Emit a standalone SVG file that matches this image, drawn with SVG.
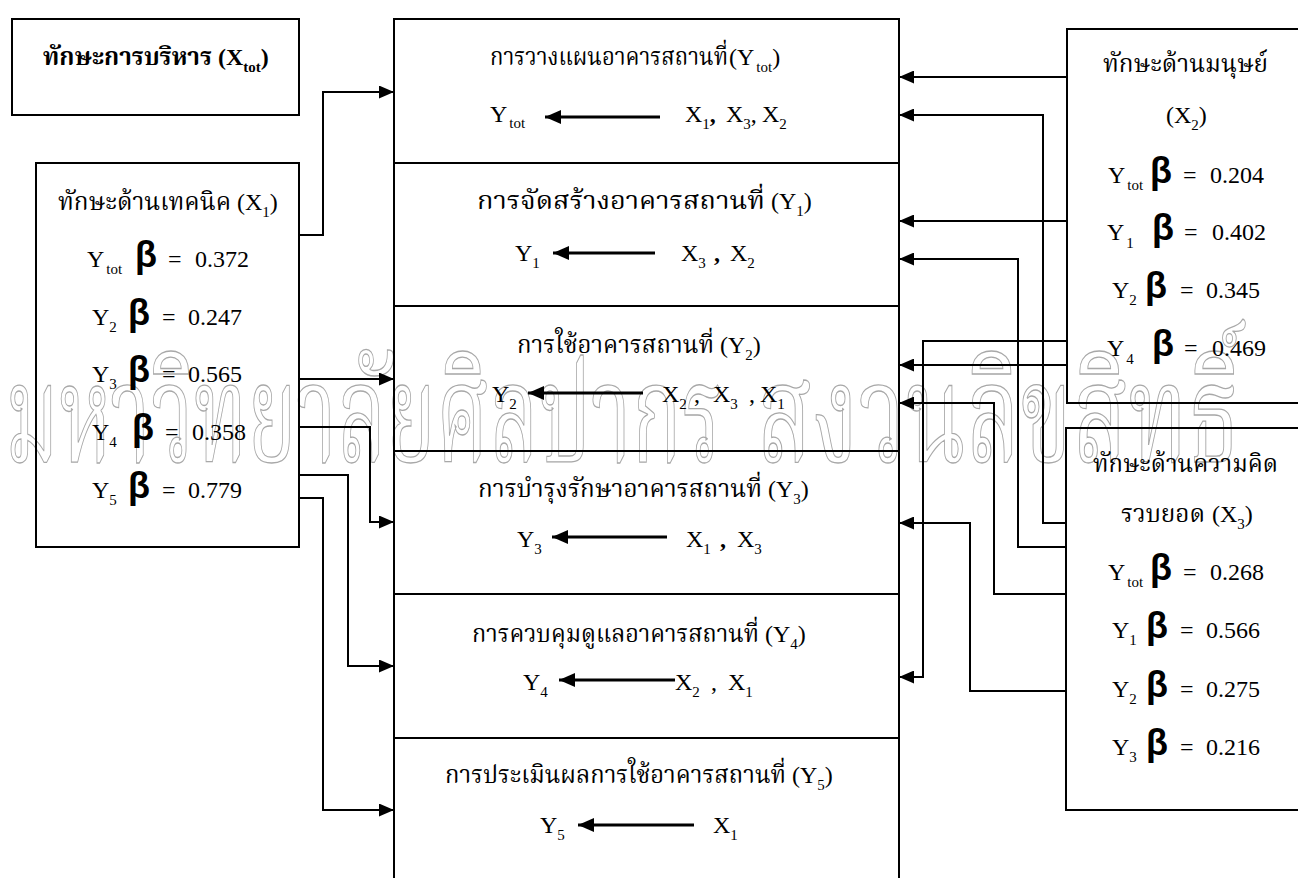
<svg xmlns="http://www.w3.org/2000/svg" width="1298" height="878" viewBox="0 0 1298 878">
<defs>
<style>
.box{fill:none;stroke:#000;stroke-width:2}
.c{fill:none;stroke:#000;stroke-width:2}
.ra{fill:none;stroke:#000;stroke-width:3}
text{font-family:"Liberation Serif","Noto Serif Thai","Noto Sans Thai","Loma","Garuda","Norasi",serif;font-size:24px;fill:#000}
.s{font-size:15px}
.bd{font-weight:bold}
.b{font-family:"Liberation Sans","DejaVu Sans",sans-serif;font-weight:bold;font-size:36px}
.wm{font-size:138px;fill:none;stroke:#a8a8a8;stroke-width:1.3}
</style>
<marker id="ah" markerUnits="userSpaceOnUse" markerWidth="15" markerHeight="13" refX="15" refY="6.5" orient="auto">
<path d="M0,0 L15,6.5 L0,13 Z" fill="#000"/>
</marker>
<marker id="ah2" markerUnits="userSpaceOnUse" markerWidth="16" markerHeight="14" refX="16" refY="7" orient="auto">
<path d="M0,0 L16,7 L0,14 Z" fill="#000"/>
</marker>
</defs>
<rect width="1298" height="878" fill="#fff"/>

<g id="watermark">
<text class="wm" x="5" y="462" textLength="718" lengthAdjust="spacingAndGlyphs">มหาวิทยาลัยศิลปากร</text>
<text class="wm" x="757" y="462" textLength="483" lengthAdjust="spacingAndGlyphs">สงวนลิขสิทธิ์</text>
</g>

<g id="xtot">
<rect class="box" x="12" y="19" width="287" height="96"/>
<text class="bd" x="43" y="65" textLength="169" lengthAdjust="spacingAndGlyphs">ทักษะการบริหาร</text>
<text class="bd" x="218" y="65">(X<tspan class="s" dy="7">tot</tspan><tspan dy="-7">)</tspan></text>
</g>

<g id="x1">
<rect class="box" x="36" y="163" width="263" height="384"/>
<text x="58" y="210" textLength="173" lengthAdjust="spacingAndGlyphs">ทักษะด้านเทคนิค</text>
<text x="237" y="210">(X<tspan class="s" dy="7">1</tspan><tspan dy="-7">)</tspan></text>
<text x="87" y="267">Y<tspan class="s" dx="2" dy="7">tot</tspan></text><text class="b" x="135" y="267">β</text><text x="168" y="267">=</text><text x="195" y="267">0.372</text>
<text x="92" y="325">Y<tspan class="s" dy="7">2</tspan></text><text class="b" x="128" y="325">β</text><text x="162" y="325">=</text><text x="188" y="325">0.247</text>
<text x="92" y="382">Y<tspan class="s" dy="7">3</tspan></text><text class="b" x="128" y="382">β</text><text x="162" y="382">=</text><text x="188" y="382">0.565</text>
<text x="92" y="440">Y<tspan class="s" dy="7">4</tspan></text><text class="b" x="132" y="440">β</text><text x="165" y="440">=</text><text x="192" y="440">0.358</text>
<text x="92" y="498">Y<tspan class="s" dy="7">5</tspan></text><text class="b" x="128" y="498">β</text><text x="162" y="498">=</text><text x="188" y="498">0.779</text>
</g>

<g id="row-ytot">
<rect class="box" x="394" y="19" width="505" height="144"/>
<text x="490" y="65" textLength="238" lengthAdjust="spacingAndGlyphs">การวางแผนอาคารสถานที่</text>
<text x="729" y="65">(Y<tspan class="s" dx="2" dy="7">tot</tspan><tspan dy="-7">)</tspan></text>
<text x="490" y="122">Y<tspan class="s" dx="2" dy="6">tot</tspan></text>
<path class="ra" marker-end="url(#ah2)" d="M660,117 H545"/>
<text y="122"><tspan x="685">X</tspan><tspan class="s" dy="7">1</tspan><tspan class="bd" dy="-7">,</tspan><tspan x="726">X</tspan><tspan class="s" dy="7">3</tspan><tspan dy="-7">,</tspan><tspan x="762">X</tspan><tspan class="s" dy="7">2</tspan></text>
</g>

<g id="row-y1">
<rect class="box" x="394" y="163" width="505" height="143"/>
<text x="477" y="209" textLength="288" lengthAdjust="spacingAndGlyphs">การจัดสร้างอาคารสถานที่</text>
<text x="771" y="209">(Y<tspan class="s" dy="7">1</tspan><tspan dy="-7">)</tspan></text>
<text x="515" y="261">Y<tspan class="s" dy="7">1</tspan></text>
<path class="ra" marker-end="url(#ah2)" d="M655,253 H553"/>
<text y="261"><tspan x="681">X</tspan><tspan class="s" dy="7">3</tspan><tspan class="bd" x="714" dy="-7">,</tspan><tspan x="730">X</tspan><tspan class="s" dy="7">2</tspan></text>
</g>

<g id="row-y2">
<rect class="box" x="394" y="306" width="505" height="145"/>
<text x="517" y="353" textLength="197" lengthAdjust="spacingAndGlyphs">การใช้อาคารสถานที่</text>
<text x="720" y="353">(Y<tspan class="s" dy="7">2</tspan><tspan dy="-7">)</tspan></text>
<text x="492" y="402">Y<tspan class="s" dy="7">2</tspan></text>
<path class="ra" marker-end="url(#ah2)" d="M643,393 H528"/>
<text y="402"><tspan x="662">X</tspan><tspan class="s" dy="7">2</tspan><tspan x="694" dy="-7">,</tspan><tspan x="713">X</tspan><tspan class="s" dy="7">3</tspan><tspan x="749" dy="-7">,</tspan><tspan x="760">X</tspan><tspan class="s" dy="7">1</tspan></text>
</g>

<g id="row-y3">
<rect class="box" x="394" y="451" width="505" height="143"/>
<text x="478" y="497" textLength="284" lengthAdjust="spacingAndGlyphs">การบำรุงรักษาอาคารสถานที่</text>
<text x="768" y="497">(Y<tspan class="s" dy="7">3</tspan><tspan dy="-7">)</tspan></text>
<text x="517" y="547">Y<tspan class="s" dy="7">3</tspan></text>
<path class="ra" marker-end="url(#ah2)" d="M667,537 H552"/>
<text y="547"><tspan x="686">X</tspan><tspan class="s" dy="7">1</tspan><tspan class="bd" x="720" dy="-7">,</tspan><tspan x="737">X</tspan><tspan class="s" dy="7">3</tspan></text>
</g>

<g id="row-y4">
<rect class="box" x="394" y="594" width="505" height="144"/>
<text x="472" y="642" textLength="287" lengthAdjust="spacingAndGlyphs">การควบคุมดูแลอาคารสถานที่</text>
<text x="765" y="642">(Y<tspan class="s" dy="7">4</tspan><tspan dy="-7">)</tspan></text>
<text x="523" y="690">Y<tspan class="s" dy="7">4</tspan></text>
<path class="ra" marker-end="url(#ah2)" d="M675,680 H559"/>
<text y="690"><tspan x="675">X</tspan><tspan class="s" dy="7">2</tspan><tspan x="711" dy="-7">,</tspan><tspan x="728">X</tspan><tspan class="s" dy="7">1</tspan></text>
</g>

<g id="row-y5">
<rect class="box" x="394" y="738" width="505" height="160"/>
<text x="445" y="783" textLength="341" lengthAdjust="spacingAndGlyphs">การประเมินผลการใช้อาคารสถานที่</text>
<text x="792" y="783">(Y<tspan class="s" dy="7">5</tspan><tspan dy="-7">)</tspan></text>
<text x="540" y="833">Y<tspan class="s" dy="7">5</tspan></text>
<path class="ra" marker-end="url(#ah2)" d="M694,825 H578"/>
<text y="833"><tspan x="713">X</tspan><tspan class="s" dy="7">1</tspan></text>
</g>

<g id="x2">
<rect class="box" x="1067" y="29" width="260" height="374"/>
<text x="1103" y="72" textLength="165" lengthAdjust="spacingAndGlyphs">ทักษะด้านมนุษย์</text>
<text x="1166" y="123">(X<tspan class="s" dy="7">2</tspan><tspan dy="-7">)</tspan></text>
<text x="1108" y="183">Y<tspan class="s" dx="2" dy="7">tot</tspan></text><text class="b" x="1150" y="183">β</text><text x="1183" y="183">=</text><text x="1210" y="183">0.204</text>
<text x="1107" y="240">Y<tspan class="s" dx="2" dy="8">1</tspan></text><text class="b" x="1152" y="240">β</text><text x="1184" y="240">=</text><text x="1212" y="240">0.402</text>
<text x="1112" y="298">Y<tspan class="s" dy="7">2</tspan></text><text class="b" x="1145" y="298">β</text><text x="1180" y="298">=</text><text x="1206" y="298">0.345</text>
<text x="1107" y="356">Y<tspan class="s" dx="2" dy="8">4</tspan></text><text class="b" x="1152" y="356">β</text><text x="1184" y="356">=</text><text x="1212" y="356">0.469</text>
</g>

<g id="x3">
<rect class="box" x="1066" y="428" width="260" height="382"/>
<text x="1093" y="472" textLength="185" lengthAdjust="spacingAndGlyphs">ทักษะด้านความคิด</text>
<text x="1121" y="522" textLength="84" lengthAdjust="spacingAndGlyphs">รวบยอด</text>
<text x="1212" y="522">(X<tspan class="s" dy="7">3</tspan><tspan dy="-7">)</tspan></text>
<text x="1108" y="580">Y<tspan class="s" dx="2" dy="7">tot</tspan></text><text class="b" x="1150" y="580">β</text><text x="1183" y="580">=</text><text x="1210" y="580">0.268</text>
<text x="1112" y="638">Y<tspan class="s" dy="7">1</tspan></text><text class="b" x="1146" y="638">β</text><text x="1180" y="638">=</text><text x="1206" y="638">0.566</text>
<text x="1112" y="697">Y<tspan class="s" dy="7">2</tspan></text><text class="b" x="1146" y="697">β</text><text x="1180" y="697">=</text><text x="1206" y="697">0.275</text>
<text x="1112" y="755">Y<tspan class="s" dy="7">3</tspan></text><text class="b" x="1146" y="755">β</text><text x="1180" y="755">=</text><text x="1206" y="755">0.216</text>
</g>

<g id="connectors">
<path class="c" marker-end="url(#ah)" d="M299,235 H323 V92 H394"/>
<path class="c" marker-end="url(#ah)" d="M299,379 H394"/>
<path class="c" marker-end="url(#ah)" d="M299,427 H370 V522 H394"/>
<path class="c" marker-end="url(#ah)" d="M299,475 H348 V666 H394"/>
<path class="c" marker-end="url(#ah)" d="M299,498 H323 V810 H394"/>
<path class="c" marker-end="url(#ah)" d="M1067,77 H899"/>
<path class="c" marker-end="url(#ah)" d="M1066,523 H1043 V115 H899"/>
<path class="c" marker-end="url(#ah)" d="M1067,221 H899"/>
<path class="c" marker-end="url(#ah)" d="M1066,547 H1018 V259 H899"/>
<path class="c" marker-end="url(#ah)" d="M1067,341 H923 V677 H899"/>
<path class="c" marker-end="url(#ah)" d="M1067,365 H899"/>
<path class="c" marker-end="url(#ah)" d="M1066,594 H994 V403 H899"/>
<path class="c" marker-end="url(#ah)" d="M1066,691 H970 V523 H899"/>
</g>
</svg>
